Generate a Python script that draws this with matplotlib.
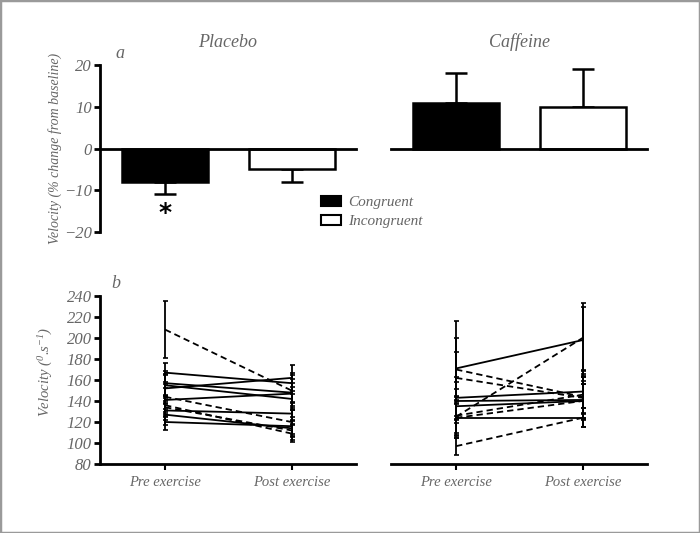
import numpy as np
import matplotlib
matplotlib.use('Agg')
import matplotlib.pyplot as plt
from matplotlib.patches import Patch, Rectangle

# ═══ Data ═══

groups = ['Congruent', 'Incongruent']
placebo_mean = [-8, -5]
placebo_err = [3, 3]
caffeine_mean = [11, 10]
caffeine_err = [7.2, 9]

conditions = ['Pre exercise', 'Post exercise']

plac_pre = [167, 157, 155, 152, 141, 131, 127, 120, 208, 144, 136, 134]
plac_post = [157, 148, 142, 162, 147, 128, 114, 116, 150, 120, 109, 112]
plac_pre_sd = [9, 12, 10, 14, 11, 9, 10, 8, 27, 12, 10, 9]
plac_post_sd = [10, 9, 11, 12, 14, 10, 8, 9, 15, 11, 8, 9]
plac_dashed = [False] * 8 + [True] * 4

caf_pre = [171, 143, 140, 135, 124, 170, 162, 125, 126, 124, 97]
caf_post = [198, 149, 141, 140, 124, 144, 143, 200, 146, 140, 124]
caf_pre_sd = [45, 20, 18, 16, 14, 30, 25, 20, 18, 17, 8]
caf_post_sd = [35, 20, 18, 16, 9, 22, 20, 30, 18, 16, 9]
caf_dashed = [False] * 5 + [True] * 6

# ═══ Style ═══

GREY = '#666666'
SERIF = 'Liberation Serif'
plt.rcParams['font.family'] = [SERIF, 'DejaVu Serif']
plt.rcParams['font.style'] = 'italic'
plt.rcParams['mathtext.fontset'] = 'custom'
plt.rcParams['mathtext.rm'] = 'Liberation Serif:italic'
plt.rcParams['mathtext.it'] = 'Liberation Serif:italic'

XLIM = (-0.515, 1.51)
SPINE_W = 2.0

fig = plt.figure(figsize=(7, 5.33), dpi=100)
ax_tl = fig.add_axes([100/700, 1-232/533, 256/700, 167/533])
ax_tr = fig.add_axes([391/700, 1-232/533, 256/700, 167/533])
ax_bl = fig.add_axes([100/700, 1-464/533, 256/700, 168/533])
ax_br = fig.add_axes([391/700, 1-464/533, 256/700, 168/533])


def bar_panel(ax, means, errs, title, show_y):
    x = np.arange(len(means))
    colors = ['black', 'white']
    for xi, m, e, c in zip(x, means, errs, colors):
        ax.bar(xi, m, 0.68, color=c, edgecolor='black', linewidth=1.8, zorder=2)
        ax.errorbar(xi, m, yerr=[[0], [e]] if m > 0 else [[e], [0]],
                    fmt='none', ecolor='black', elinewidth=1.8,
                    capsize=8, capthick=1.8, zorder=1)
    ax.set_xlim(*XLIM)
    ax.set_ylim(-20, 20)
    ax.set_title(title, fontsize=13, color=GREY, pad=13)
    for s in ['top', 'right']:
        ax.spines[s].set_visible(False)
    ax.spines['bottom'].set_position(('data', 0))
    ax.spines['bottom'].set_linewidth(SPINE_W)
    ax.set_xticks([])
    if show_y:
        ax.spines['left'].set_linewidth(SPINE_W)
        ax.set_yticks([-20, -10, 0, 10, 20])
        ax.set_yticklabels(['\u221220', '\u221210', '0', '10', '20'])
        ax.tick_params(axis='y', length=4, width=SPINE_W, labelsize=12,
                       labelcolor=GREY, pad=2)
    else:
        ax.spines['left'].set_visible(False)
        ax.set_yticks([])


def line_panel(ax, pre, post, pre_sd, post_sd, dashed, show_y):
    for p0, p1, s0, s1, d in zip(pre, post, pre_sd, post_sd, dashed):
        ls = (0, (3.5, 2.2)) if d else '-'
        ax.errorbar([0, 1], [p0, p1], yerr=[s0, s1], color='black',
                    linestyle=ls, linewidth=1.3, elinewidth=1.3,
                    capsize=1.8, capthick=1.2)
    ax.set_xlim(*XLIM)
    ax.set_ylim(80, 240)
    for s in ['top', 'right']:
        ax.spines[s].set_visible(False)
    ax.spines['bottom'].set_linewidth(SPINE_W)
    ax.set_xticks([0, 1])
    ax.set_xticklabels(conditions)
    ax.tick_params(axis='x', length=4, width=1.5, labelsize=10.5,
                   labelcolor=GREY, pad=5)
    if show_y:
        ax.spines['left'].set_linewidth(SPINE_W)
        ax.set_yticks(np.arange(80, 241, 20))
        ax.tick_params(axis='y', length=4, width=SPINE_W, labelsize=12,
                       labelcolor=GREY, pad=2)
    else:
        ax.spines['left'].set_visible(False)
        ax.set_yticks([])


bar_panel(ax_tl, placebo_mean, placebo_err, 'Placebo', True)
bar_panel(ax_tr, caffeine_mean, caffeine_err, 'Caffeine', False)
line_panel(ax_bl, plac_pre, plac_post, plac_pre_sd, plac_post_sd, plac_dashed, True)
line_panel(ax_br, caf_pre, caf_post, caf_pre_sd, caf_post_sd, caf_dashed, False)

ax_tl.set_ylabel('Velocity (% change from baseline)', fontsize=10, color=GREY)
ax_tl.yaxis.set_label_coords(-0.148, 0.5)
ax_bl.set_ylabel('Velocity ($^{0}$.s$^{-1}$)', fontsize=10.5, color=GREY)
ax_bl.yaxis.set_label_coords(-0.176, 0.55)

# significance marker
ax_tl.text(0, -12.6, '*', ha='center', va='top', fontsize=18,
           fontweight='bold', fontstyle='normal', family='DejaVu Sans')

fig.text(115/700, 1-53/533, 'a', fontsize=13, color=GREY, va='center')
fig.text(111/700, 1-283/533, 'b', fontsize=13, color=GREY, va='center')

handles = [Patch(facecolor='black', edgecolor='black', linewidth=1.5),
           Patch(facecolor='white', edgecolor='black', linewidth=1.5)]
fig.legend(handles, groups, loc='upper left',
           bbox_to_anchor=(307/700, 1-182/533), frameon=False,
           handlelength=1.3, handleheight=0.7, handletextpad=0.5,
           labelspacing=0.35, prop={'family': SERIF, 'style': 'italic', 'size': 11},
           labelcolor=GREY)

fig.patches.append(Rectangle((0, 0), 1, 1, transform=fig.transFigure,
                             fill=False, edgecolor='#9a9a9a', linewidth=2.5))

fig.savefig('out.png', dpi=100)
plt.close(fig)
